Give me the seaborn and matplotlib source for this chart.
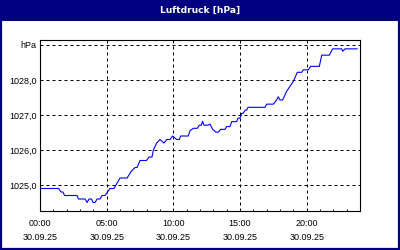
import matplotlib
matplotlib.use("Agg")
import matplotlib.pyplot as plt
import seaborn as sns
import pandas as pd
from matplotlib.patches import Rectangle

# ---- data (hours since 30.09.25 00:00, pressure in hPa) ----
hours = [0.0, 1.4, 1.58, 1.72, 1.84, 2.78, 2.89, 3.38, 3.53, 3.68, 3.86, 3.98,
         4.13, 4.28, 4.5, 4.65, 4.88, 5.25, 5.55, 6.0, 6.53, 6.86, 7.13, 7.28,
         7.5, 7.99, 8.18, 8.4, 8.5, 8.75, 9.0, 9.3, 9.5, 9.75, 9.94, 10.25,
         10.45, 10.55, 11.12, 11.25, 11.5, 11.8, 11.95, 12.1, 12.19, 12.3,
         12.6, 12.75, 12.95, 13.2, 13.37, 13.55, 13.88, 14.0, 14.25, 14.38,
         14.75, 14.85, 15.0, 15.13, 15.25, 15.38, 15.5, 15.6, 16.88, 17.0,
         17.5, 17.75, 17.87, 18.0, 18.2, 18.5, 19.0, 19.3, 19.63, 19.75,
         20.12, 20.3, 20.95, 21.13, 21.7, 21.95, 22.63, 22.7, 22.88, 23.8]
pressure = [1024.9, 1024.9, 1024.8, 1024.8, 1024.7, 1024.7, 1024.6, 1024.6,
            1024.5, 1024.6, 1024.6, 1024.5, 1024.5, 1024.6, 1024.6, 1024.7,
            1024.7, 1024.9, 1024.9, 1025.2, 1025.2, 1025.4, 1025.5, 1025.5,
            1025.7, 1025.7, 1025.8, 1025.8, 1026.0, 1026.2, 1026.3, 1026.2,
            1026.3, 1026.3, 1026.4, 1026.3, 1026.3, 1026.4, 1026.4, 1026.55,
            1026.62, 1026.62, 1026.71, 1026.71, 1026.82, 1026.71, 1026.71,
            1026.74, 1026.59, 1026.51, 1026.51, 1026.59, 1026.59, 1026.67,
            1026.67, 1026.81, 1026.81, 1026.91, 1026.91, 1027.05, 1027.05,
            1027.14, 1027.14, 1027.22, 1027.22, 1027.31, 1027.31, 1027.43,
            1027.52, 1027.43, 1027.43, 1027.68, 1027.96, 1028.22, 1028.22,
            1028.29, 1028.29, 1028.39, 1028.39, 1028.71, 1028.71, 1028.89,
            1028.89, 1028.82, 1028.89, 1028.89]

x_ticks = [0, 5, 10, 15, 20]
x_labels = ["00:00\n30.09.25", "05:00\n30.09.25", "10:00\n30.09.25",
            "15:00\n30.09.25", "20:00\n30.09.25"]
y_ticks = [1025, 1026, 1027, 1028, 1029]
y_labels = ["1025,0", "1026,0", "1027,0", "1028,0", "hPa"]
title = "Luftdruck [hPa]"

df = pd.DataFrame({"h": hours, "p": pressure})

sns.set_style("white")
plt.rcParams["font.family"] = ["DejaVu Sans"]
plt.rcParams["text.color"] = "black"
plt.rcParams["xtick.color"] = "black"
plt.rcParams["ytick.color"] = "black"

NAVY = "#000080"
fig = plt.figure(figsize=(4, 2.5), dpi=100)
fig.patch.set_facecolor("white")

# title bar and border
fig.patches.append(Rectangle((0, 1 - 21 / 250), 1, 21 / 250, transform=fig.transFigure,
                             facecolor=NAVY, edgecolor="none", zorder=0))
fig.patches.append(Rectangle((0.5 / 400, 1 / 250), 1 - 2 / 400, 1 - 1.5 / 250,
                             transform=fig.transFigure, facecolor="none",
                             edgecolor=NAVY, lw=1.6, zorder=1))
fig.text(0.5, 1 - 10.5 / 250, title, ha="center", va="center", color="white",
         fontsize=6.6, fontweight="bold")

ax = fig.add_axes([40 / 400, 1 - 211 / 250, 320 / 400, 171 / 250])
sns.lineplot(data=df, x="h", y="p", ax=ax, color="#0000FF", lw=0.8, sort=False)

ax.set_xlim(0, 24)
ax.set_ylim(1025 - 26 / 35, 1025 + 145 / 35)
ax.set_xticks(x_ticks)
ax.set_xticklabels(x_labels, fontsize=6.5, linespacing=1.75,
                   family=["Liberation Sans"], color="black")
ax.set_xticks(range(0, 25), minor=True)
ax.set_yticks(y_ticks)
ax.set_yticklabels(y_labels, fontsize=6.5, family=["Liberation Sans"], color="black")
ax.set_xlabel("")
ax.set_ylabel("")

ax.tick_params(axis="x", which="both", direction="in", length=1.6, width=0.72,
               color="black", pad=5.5, bottom=True, top=False)
ax.tick_params(axis="y", which="both", length=0, pad=2.5, left=False)

ax.grid(True, which="major", color="black", linestyle=(0, (3, 3)), lw=0.72)
for s in ax.spines.values():
    s.set_visible(True)
    s.set_color("black")
    s.set_linewidth(0.8)

fig.savefig("out.png", dpi=100, facecolor=fig.get_facecolor())
